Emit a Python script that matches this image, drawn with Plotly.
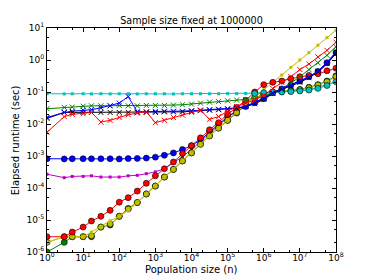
import plotly.graph_objects as go

# ---------------- data ----------------
population = [1, 3, 5, 10, 17, 31, 56, 100, 177, 316, 562, 1000, 1778, 3162, 5623,
              10000, 17782, 31622, 56234, 100000, 177827, 316227, 562341, 1000000,
              1778279, 3162277, 5623413, 10000000, 17782794, 31622776, 56234132, 100000000]

cyan_squares = [0.088, 0.087, 0.088, 0.088, 0.087, 0.088, 0.087, 0.088, 0.088, 0.087, 0.088,
                0.088, 0.088, 0.087, 0.088, 0.088, 0.088, 0.088, 0.088, 0.089, 0.089, 0.09,
                0.092, 0.095, 0.1, 0.103, 0.105, 0.11, 0.12, 0.14, 0.17, 0.21]
magenta_dots = [2.7e-4, 2.1e-4, 2.3e-4, 2.3e-4, 2.4e-4, 2.2e-4, 2.2e-4, 2.2e-4, 2.4e-4, 2.5e-4,
                2.8e-4, 3.2e-4, 4e-4, 6e-4, 9.5e-4, 1.6e-3, 2.9e-3, 5.2e-3, 9e-3, 0.016, 0.025,
                0.034, 0.043, 0.057, 0.09, 0.12, 0.16, 0.21, 0.29, 0.41, 0.75, 1.6]
blue_circles = [8.2e-4, 8.1e-4, 8.2e-4, 8.2e-4, 8.2e-4, 8.2e-4, 8.2e-4, 8.1e-4, 8.3e-4, 8.4e-4,
                8.6e-4, 9.2e-4, 1.05e-3, 1.25e-3, 1.6e-3, 2.1e-3, 3.2e-3, 5.6e-3, 0.0098, 0.017,
                0.026, 0.035, 0.046, 0.062, 0.095, 0.125, 0.165, 0.22, 0.3, 0.44, 0.82, 1.7]
green_circles = [1e-6, 2e-6, 3e-6, 3e-6, 3e-6, 6e-6, 7e-6, 1.3e-5, 2.3e-5, 3.5e-5, 6.5e-5,
                 1.15e-4, 2.2e-4, 3.8e-4, 7e-4, 1.25e-3, 2.4e-3, 4.3e-3, 7.5e-3, 0.013, 0.022,
                 0.045, 0.065, 0.085, 0.1, 0.105, 0.11, 0.12, 0.14, 0.17, 0.22, 0.32]
yellow_circles = [2e-6, 3e-6, 3e-6, 3e-6, 3.2e-6, 6e-6, 7.5e-6, 1.3e-5, 2.2e-5, 3.5e-5, 6.5e-5,
                  1.15e-4, 2.2e-4, 3.8e-4, 7e-4, 1.25e-3, 2.3e-3, 4.2e-3, 7.4e-3, 0.013, 0.023,
                  0.045, 0.065, 0.085, 0.1, 0.104, 0.108, 0.118, 0.135, 0.165, 0.21, 0.3]
yellow_dots = [2e-6, 3e-6, 3e-6, 3e-6, 4.2e-6, 6.3e-6, 9.5e-6, 1.3e-5, 2e-5, 3.6e-5, 6.6e-5,
               1.2e-4, 2.2e-4, 4e-4, 7.4e-4, 1.3e-3, 2.4e-3, 4.4e-3, 7.7e-3, 0.0138, 0.0236,
               0.04, 0.069, 0.117, 0.2, 0.34, 0.59, 1.0, 1.7, 2.9, 5.0, 8.5]
red_circles = [3e-6, 3e-6, 4.2e-6, 6e-6, 9.3e-6, 1.3e-5, 2e-5, 3.6e-5, 5e-5, 8e-5, 1.4e-4,
               2.4e-4, 4e-4, 6.5e-4, 1.2e-3, 2.1e-3, 3.7e-3, 6.6e-3, 0.011, 0.02, 0.033, 0.055,
               0.1, 0.17, 0.2, 0.22, 0.26, 0.3, 0.33, 0.37, 0.46, 0.55]
cyan_circles = [None] * 22 + [0.09, 0.095, 0.1, 0.1, 0.103, 0.108, 0.115, 0.13, 0.16, 0.21]
green_crosses = [0.03, 0.033, 0.034, 0.036, 0.037, 0.037, 0.037, 0.038, 0.037, 0.037, 0.038,
                 0.038, 0.038, 0.039, 0.04, 0.042, 0.045, 0.048, 0.05, 0.053, 0.056, 0.058,
                 0.062, 0.075, 0.095, 0.13, 0.19, 0.3, 0.5, 0.82, 1.4, 2.6]
black_crosses = [0.015, 0.023, 0.023, 0.023, 0.023, 0.023, 0.023, 0.023, 0.023, 0.023, 0.023,
                 0.023, 0.024, 0.024, 0.024, 0.025, 0.026, 0.027, 0.028, 0.029, 0.031, 0.035,
                 0.043, 0.06, 0.09, 0.12, 0.155, 0.2, 0.28, 0.42, 0.78, 1.6]
blue_crosses = [0.016, 0.023, 0.025, 0.027, 0.028, 0.032, 0.037, 0.045, 0.072, 0.024, 0.024,
                0.025, 0.025, 0.025, 0.025, 0.026, 0.027, 0.028, 0.029, 0.03, 0.032, 0.036,
                0.047, 0.065, 0.095, 0.125, 0.16, 0.22, 0.3, 0.45, 0.85, 1.8]
red_crosses = [0.0055, 0.017, 0.02, 0.021, 0.023, 0.0115, 0.013, 0.016, 0.0195, 0.022, 0.024,
               0.011, 0.013, 0.016, 0.019, 0.023, 0.027, 0.014, 0.017, 0.025, 0.035, 0.045,
               0.055, 0.08, 0.13, 0.2, 0.3, 0.5, 0.75, 1.25, 2.0, 3.6]

x_tick_values = [1, 10, 100, 1000, 10000, 100000, 1000000, 10000000, 100000000]
x_tick_labels = ["10<sup>0</sup>", "10<sup>1</sup>", "10<sup>2</sup>", "10<sup>3</sup>",
                 "10<sup>4</sup>", "10<sup>5</sup>", "10<sup>6</sup>", "10<sup>7</sup>",
                 "10<sup>8</sup>"]
y_tick_values = [1e-6, 1e-5, 1e-4, 1e-3, 1e-2, 1e-1, 1, 10]
y_tick_labels = ["10<sup>-6</sup>", "10<sup>-5</sup>", "10<sup>-4</sup>", "10<sup>-3</sup>",
                 "10<sup>-2</sup>", "10<sup>-1</sup>", "10<sup>0</sup>", "10<sup>1</sup>"]

title_text = "Sample size fixed at 1000000"
x_title = "Population size (n)"
y_title = "Elapsed runtime (sec)"

# ---------------- styles ----------------
B, G, R, C, M, Y, K = "#0000ff", "#008000", "#ff0000", "#00bfbf", "#bf00bf", "#bfbf00", "#000000"

series = [
    (cyan_squares, C, "square", 3, None),
    (magenta_dots, M, "square", 3, None),
    (blue_circles, B, "circle", 6, K),
    (green_circles, G, "circle", 6, K),
    (yellow_circles, Y, "circle", 6, K),
    (yellow_dots, Y, "square", 3, None),
    (red_circles, R, "circle", 6, K),
    (cyan_circles, C, "circle", 6, K),
    (green_crosses, G, "x-thin", 5, "same"),
    (black_crosses, K, "x-thin", 5, "same"),
    (blue_crosses, B, "x-thin", 5, "same"),
    (red_crosses, R, "x-thin", 5, "same"),
]

fig = go.Figure()
for vals, col, sym, size, edge in series:
    if edge == "same":
        mk = dict(symbol=sym, size=size, color=col, line=dict(color=col, width=1))
    elif edge is None:
        mk = dict(symbol=sym, size=size, color=col, line=dict(width=0))
    else:
        mk = dict(symbol=sym, size=size, color=col, line=dict(color=edge, width=0.6))
    fig.add_trace(go.Scatter(x=population, y=vals, mode="lines+markers",
                             line=dict(color=col, width=1), marker=mk,
                             showlegend=False, connectgaps=False))

axis_common = dict(type="log", showline=True, linecolor="black", linewidth=1, mirror="ticks",
                   ticks="inside", ticklen=4, tickcolor="black", showgrid=False, zeroline=False,
                   tickfont=dict(family="DejaVu Sans", size=9, color="black"),
                   minor=dict(ticks="inside", ticklen=2, tickcolor="black", showgrid=False))

fig.update_xaxes(range=[0, 8], tickmode="array", tickvals=x_tick_values,
                 ticktext=x_tick_labels, ticklabelstandoff=-3, **axis_common)
fig.update_yaxes(range=[-6, 1], tickmode="array", tickvals=y_tick_values,
                 ticktext=y_tick_labels, **axis_common)

# the page body adds an 8px offset, so the figure is 8px smaller and margins shifted
fig.update_layout(
    width=366, height=272, autosize=False,
    margin=dict(l=39, r=38, t=20, b=28, autoexpand=False),
    paper_bgcolor="white", plot_bgcolor="white",
    font=dict(family="DejaVu Sans", color="black"),
    title=dict(text=title_text, x=0.5, xref="paper", xanchor="center",
               y=1 - 13 / 272, yref="container", yanchor="middle",
               font=dict(size=9.6, family="DejaVu Sans")),
    annotations=[
        dict(text=x_title, xref="paper", yref="paper", x=0.5, y=-0.08,
             xanchor="center", yanchor="middle", showarrow=False,
             font=dict(size=10, family="DejaVu Sans")),
        dict(text=y_title, xref="paper", yref="paper", x=-0.11, y=0.5,
             xanchor="center", yanchor="middle", showarrow=False, textangle=-90,
             font=dict(size=10, family="DejaVu Sans")),
    ],
)

fig.write_html("out.html")
